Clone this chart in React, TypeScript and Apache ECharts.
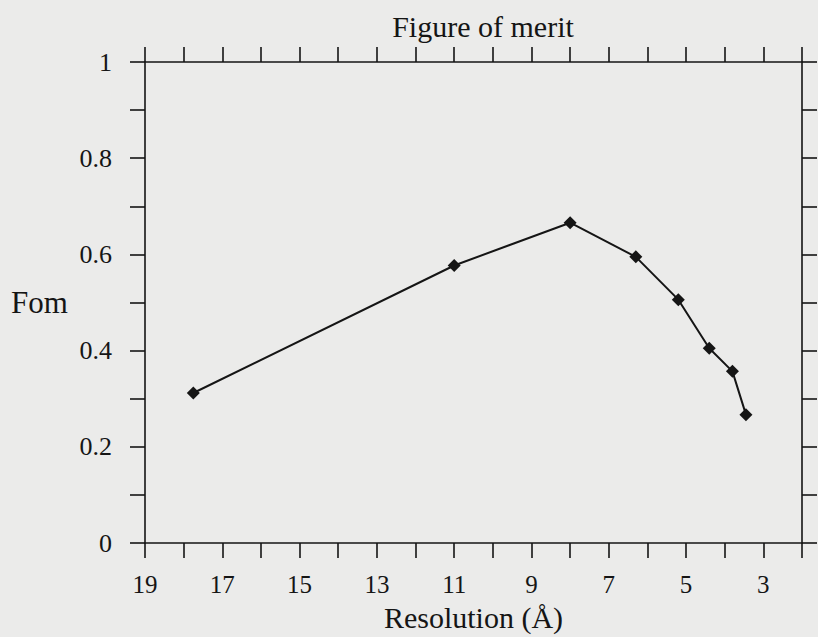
import React, { useEffect, useRef } from "react";
import * as echarts from "echarts";

// Data
const resolution = [17.75, 11, 8, 6.3, 5.2, 4.4, 3.8, 3.45];
const fom = [0.312, 0.577, 0.666, 0.595, 0.506, 0.405, 0.357, 0.267];
const xTickLabels = [19, 17, 15, 13, 11, 9, 7, 5, 3];
const yTickLabels = ["0", "0.2", "0.4", "0.6", "0.8", "1"];

const FONT = "'Liberation Serif', 'Times New Roman', serif";
const INK = "#151515";

export default function App() {
  const ref = useRef<HTMLDivElement>(null);
  useEffect(() => {
    if (!ref.current) return;
    const chart = echarts.init(ref.current, null, { renderer: "svg" });
    const xCommon = {
      type: "value",
      min: 2,
      max: 19,
      interval: 1,
      inverse: true,
      axisLine: { show: true, onZero: false, lineStyle: { color: INK, width: 1.6 } },
      axisTick: { show: true, length: 15, lineStyle: { color: INK, width: 1.6 } },
      splitLine: { show: false },
    };
    const yCommon = {
      type: "value",
      min: 0,
      max: 1,
      interval: 0.1,
      axisLine: { show: true, onZero: false, lineStyle: { color: INK, width: 1.6 } },
      axisTick: { show: true, length: 15, lineStyle: { color: INK, width: 1.6 } },
      splitLine: { show: false },
    };
    chart.setOption({
      animation: false,
      backgroundColor: "#ebebea",
      title: {
        text: "Figure of merit",
        left: 478,
        top: 6,
        textAlign: "center",
        textStyle: { fontFamily: FONT, fontSize: 30, fontWeight: "normal", color: INK },
      },
      grid: { left: 145, right: 16, top: 62, bottom: 87 },
      xAxis: [
        {
          ...xCommon,
          position: "bottom",
          name: "Resolution (Å)",
          nameLocation: "middle",
          nameGap: 72,
          nameTextStyle: { fontFamily: FONT, fontSize: 30, color: INK, verticalAlign: "middle" },
          axisLabel: {
            show: true,
            margin: 29,
            fontFamily: FONT,
            fontSize: 25,
            color: INK,
            formatter: (v: number) => (xTickLabels.includes(Math.round(v)) ? String(Math.round(v)) : ""),
          },
        },
        {
          ...xCommon,
          position: "top",
          axisLabel: { show: false },
        },
      ],
      yAxis: [
        {
          ...yCommon,
          position: "left",
          name: "Fom",
          nameLocation: "middle",
          nameRotate: 0,
          nameGap: 134,
          nameTextStyle: { fontFamily: FONT, fontSize: 31, color: INK, align: "left", verticalAlign: "middle" },
          axisLabel: {
            show: true,
            margin: 33,
            fontFamily: FONT,
            fontSize: 26,
            color: INK,
            formatter: (v: number) => {
              const s = String(Math.round(v * 10) / 10);
              return yTickLabels.includes(s) ? s : "";
            },
          },
        },
        {
          ...yCommon,
          position: "right",
          axisLabel: { show: false },
        },
      ],
      series: [
        {
          type: "line",
          xAxisIndex: 0,
          yAxisIndex: 0,
          data: resolution.map((r, i) => [r, fom[i]]),
          symbol: "diamond",
          symbolSize: 13,
          lineStyle: { color: INK, width: 2 },
          itemStyle: { color: INK },
        },
      ],
    });
    return () => chart.dispose();
  }, []);
  return (
    <div
      ref={ref}
      style={{ position: "absolute", left: 0, top: 0, width: 818, height: 637 }}
    />
  );
}
